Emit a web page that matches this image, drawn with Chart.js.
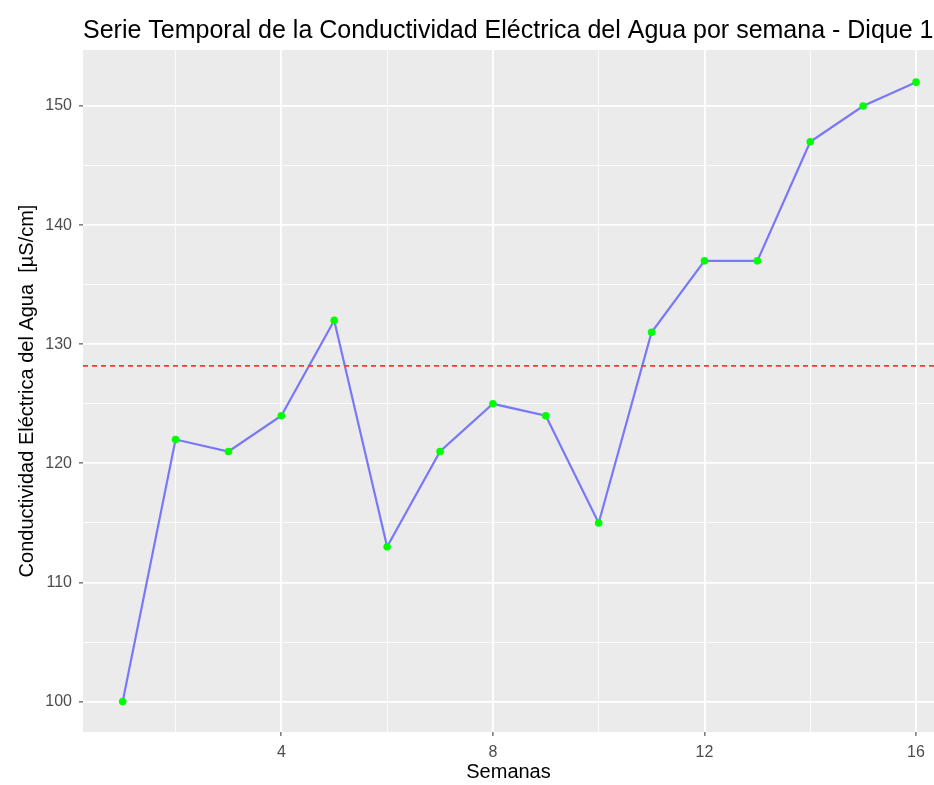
<!DOCTYPE html>
<html>
<head>
<meta charset="utf-8">
<script src="https://cdn.jsdelivr.net/npm/chart.js@4"></script>
<style>
  body { margin: 0; background: #ffffff; }
  #wrap { width: 934px; height: 785px; }
</style>
</head>
<body>
<div id="wrap"><canvas id="myChart" width="934" height="785"></canvas></div>
<script>
// semanas y conductividad (µS/cm)
const semanas = [1, 2, 3, 4, 5, 6, 7, 8, 9, 10, 11, 12, 13, 14, 15, 16];
const conductividad = [100, 122, 121, 124, 132, 113, 121, 125, 124, 115, 131, 137, 137, 147, 150, 152];

const xTicks = [2, 4, 6, 8, 10, 12, 14, 16];
const xLabels = [4, 8, 12, 16];
const yTicks = [100, 105, 110, 115, 120, 125, 130, 135, 140, 145, 150];
const yLabels = [100, 110, 120, 130, 140, 150];

const xMin = 0.25, xMax = 16.34;
const yMin = 97.45, yMax = 154.7;

const promedio = conductividad.reduce(function (a, b) { return a + b; }, 0) / conductividad.length;

const fuente = "'Liberation Sans', Arial, sans-serif";

const fondoPanel = {
  id: "fondoPanel",
  beforeDraw: function (chart) {
    const a = chart.chartArea;
    const ctx = chart.ctx;
    ctx.save();
    ctx.fillStyle = "#ebebeb";
    ctx.fillRect(a.left, a.top, a.right - a.left, a.bottom - a.top);
    ctx.restore();
  },
};

function gridWidth(ctx, labels) {
  if (!ctx.tick) return 0;
  return labels.includes(ctx.tick.value) ? 1.8 : 0.8;
}

function tickColor(ctx, labels) {
  if (!ctx.tick) return "transparent";
  return labels.includes(ctx.tick.value) ? "#333333" : "transparent";
}

const config = {
  type: "line",
  data: {
    datasets: [
      {
        label: "Promedio",
        data: [{ x: xMin, y: promedio }, { x: xMax, y: promedio }],
        borderColor: "#ff3838",
        borderWidth: 1.6,
        borderDash: [5, 4],
        pointRadius: 0,
      },
      {
        label: "Conductividad",
        data: semanas.map(function (s, i) {
          return { x: s, y: conductividad[i] };
        }),
        borderColor: "#7878f8",
        borderWidth: 2.2,
        pointRadius: 3.8,
        pointBackgroundColor: "#00ff00",
        pointBorderWidth: 0,
        tension: 0,
      },
    ],
  },
  options: {
    responsive: false,
    animation: false,
    layout: { padding: 0, autoPadding: false },
    plugins: {
      legend: { display: false },
      tooltip: { enabled: false },
      title: {
        display: true,
        text: "Serie Temporal de la Conductividad Eléctrica del Agua por semana - Dique 1",
        align: "start",
        fullSize: false,
        color: "#000000",
        font: { family: fuente, size: 25, weight: "normal" },
        padding: { top: 16, bottom: 4 },
      },
    },
    scales: {
      x: {
        type: "linear",
        min: xMin,
        max: xMax,
        afterBuildTicks: function (scale) {
          scale.ticks = xTicks.map(function (v) { return { value: v }; });
        },
        afterFit: function (scale) {
          scale.height = 53;
          scale.paddingLeft = 0;
          scale.paddingRight = 0;
        },
        border: { display: false },
        grid: {
          color: "#ffffff",
          lineWidth: function (ctx) { return gridWidth(ctx, xLabels); },
          tickColor: function (ctx) { return tickColor(ctx, xLabels); },
          tickLength: 4,
          tickWidth: 1,
        },
        ticks: {
          autoSkip: false,
          maxRotation: 0,
          padding: 7,
          color: "#4d4d4d",
          font: { family: fuente, size: 16 },
          callback: function (v) { return xLabels.includes(v) ? String(v) : ""; },
        },
        title: {
          display: true,
          text: "Semanas",
          color: "#000000",
          font: { family: fuente, size: 20 },
          padding: { top: 0, bottom: 1 },
        },
      },
      y: {
        type: "linear",
        min: yMin,
        max: yMax,
        afterBuildTicks: function (scale) {
          scale.ticks = yTicks.map(function (v) { return { value: v }; });
        },
        afterFit: function (scale) {
          scale.width = 83;
          scale.paddingTop = 0;
          scale.paddingBottom = 0;
        },
        border: { display: false },
        grid: {
          color: "#ffffff",
          lineWidth: function (ctx) { return gridWidth(ctx, yLabels); },
          tickColor: function (ctx) { return tickColor(ctx, yLabels); },
          tickLength: 4,
          tickWidth: 1,
        },
        ticks: {
          autoSkip: false,
          padding: 7,
          color: "#4d4d4d",
          font: { family: fuente, size: 16 },
          callback: function (v) { return yLabels.includes(v) ? String(v) : ""; },
        },
        title: {
          display: true,
          text: "Conductividad Eléctrica del Agua  [µS/cm]",
          color: "#000000",
          font: { family: fuente, size: 20 },
          padding: { top: 15, bottom: 0 },
        },
      },
    },
  },
  plugins: [fondoPanel],
};

const myChart = document.getElementById("myChart");
new Chart(myChart, config);
</script>
</body>
</html>
